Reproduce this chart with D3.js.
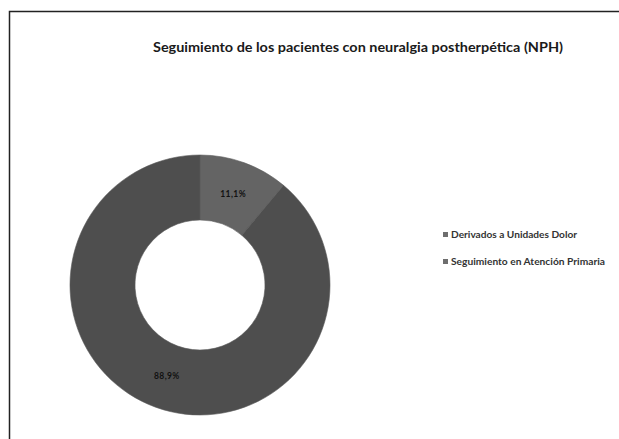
<!DOCTYPE html>
<html>
<head>
<meta charset="utf-8">
<script src="https://cdn.jsdelivr.net/npm/d3@7"></script>
<style>
  html, body { margin: 0; padding: 0; background: #ffffff; }
  svg { display: block; }
</style>
</head>
<body>
<script>
// Follow-up of patients with postherpetic neuralgia
const categories = ["Derivados a Unidades Dolor", "Seguimiento en Atención Primaria"];
const values = [11.1, 88.9];
const valueLabels = ["11,1%", "88,9%"];
const sliceColors = ["#646464", "#4e4e4e"];
const titleText = "Seguimiento de los pacientes  con neuralgia postherpética (NPH)";

const W = 619, H = 439;
const svg = d3.select("body").append("svg").attr("width", W).attr("height", H);

// chart frame (open on the right and bottom)
svg.append("path")
  .attr("d", `M9.5,${H} L9.5,11.5 L${W},11.5`)
  .attr("fill", "none")
  .attr("stroke", "#222")
  .attr("stroke-width", 1.5);

svg.append("text")
  .attr("x", 153).attr("y", 52)
  .attr("textLength", 410)
  .attr("lengthAdjust", "spacingAndGlyphs")
  .attr("font-family", "Lato, 'Open Sans', sans-serif")
  .attr("font-weight", "bold")
  .attr("font-size", 14)
  .attr("fill", "#1a1a1a")
  .text(titleText);

const cx = 200, cy = 285, outerR = 130, innerR = 65;
const pie = d3.pie().sort(null).value(d => d.value);
const arcs = pie(values.map((v, i) => ({ value: v, i })));
const arc = d3.arc().innerRadius(innerR).outerRadius(outerR);
const labelArc = d3.arc().innerRadius(97).outerRadius(97);

const g = svg.append("g").attr("transform", `translate(${cx},${cy})`);
g.selectAll("path.slice").data(arcs).join("path")
  .attr("class", "slice")
  .attr("d", arc)
  .attr("fill", d => sliceColors[d.data.i])
  .attr("stroke", "#5a5a5a")
  .attr("stroke-width", 0.6);

g.selectAll("text.lbl").data(arcs).join("text")
  .attr("class", "lbl")
  .attr("transform", d => `translate(${labelArc.centroid(d)})`)
  .attr("text-anchor", "middle")
  .attr("dy", "0.35em")
  .attr("font-family", "Lato, sans-serif")
  .attr("font-weight", "bold")
  .attr("font-size", 8.5)
  .attr("letter-spacing", 0.4)
  .attr("fill", "#111")
  .text(d => valueLabels[d.data.i]);

// legend
const legendWidths = [126, 154];
const legend = svg.append("g").attr("transform", "translate(443,235)");
const rows = legend.selectAll("g").data(categories).join("g")
  .attr("transform", (d, i) => `translate(0,${i * 27})`);
rows.append("rect")
  .attr("x", 0).attr("y", -3).attr("width", 5).attr("height", 5)
  .attr("fill", "#6e6e6e");
rows.append("text")
  .attr("x", 8).attr("y", 0)
  .attr("dy", "0.35em")
  .attr("textLength", (d, i) => legendWidths[i])
  .attr("lengthAdjust", "spacingAndGlyphs")
  .attr("font-family", "Lato, sans-serif")
  .attr("font-weight", "bold")
  .attr("font-size", 9)
  .attr("fill", "#333")
  .text(d => d);
</script>
</body>
</html>
